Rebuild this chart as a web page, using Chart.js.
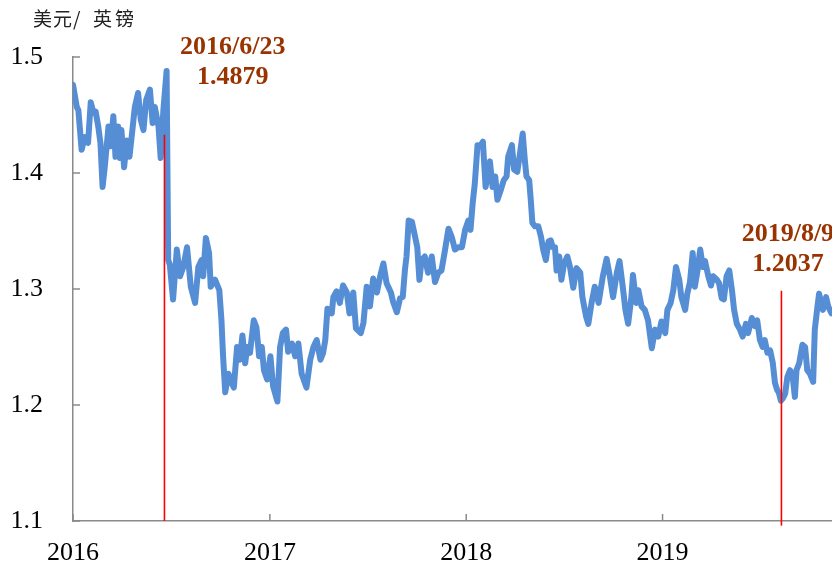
<!DOCTYPE html>
<html>
<head>
<meta charset="utf-8">
<script src="https://cdn.jsdelivr.net/npm/chart.js@4.4.1/dist/chart.umd.min.js"></script>
<style>
  html, body { margin: 0; padding: 0; background: #fff; }
  #wrap { width: 832px; height: 567px; position: relative; }
</style>
</head>
<body>
<div id="wrap"><canvas id="c" width="832" height="567"></canvas></div>
<script>
// ---- Data (days since 2016-01-01, USD per GBP) ----
const days = [
  0,7,10,16,22,28,33,38,42,47,51,55,59,66,70,75,79,84,87,90,95,100,105,109,115,121,126,131,136,143,148,152,159,163,168,174,
  177,180,186,193,199,205,212,219,227,233,239,242,247,253,256,264,272,276,279,283,
  289,295,299,305,310,315,320,324,329,336,341,346,351,355,361,367,372,380,385,390,396,400,407,413,419,425,434,441,447,453,460,465,469,473,
  475,481,484,490,496,502,509,514,521,526,535,540,546,552,558,565,571,577,583,591,595,602,608,613,617,620,624,630,636,640,644,648,654,660,667,673,679,685,691,698,704,710,716,723,729,735,739,743,747,752,757,762,767,
  775,780,785,789,795,801,806,809,816,820,826,831,836,840,843,848,851,854,859,865,870,874,879,884,888,892,896,899,904,908,913,919,924,930,936,943,947,954,958,964,970,977,985,992,998,1004,1011,1016,1022,1027,1032,1038,1041,1047,1051,1057,1063,1069,
  1076,1082,1088,1094,1101,1105,1111,1116,1121,1127,1131,1138,1142,1147,1152,1156,1161,1166,1171,1175,1181,1186,1190,1197,1201,1206,1210,1215,1220,1225,1229,1234,1240,1245,1251,1255,1262,1268,1272,1277,1282,1286,1291,1296,1301,1305,1309,1312,1316,1320,1324,1328,1333,1338,1342,1345,1350,1356,1361,1365,1370,1376,1379,1384,1387,1394,1400,1404,1410
];
const rates = [
  1.476,1.457,1.454,1.420,1.431,1.426,1.461,1.452,1.453,1.440,1.426,1.388,1.405,1.440,1.423,1.449,1.414,1.440,1.413,1.437,1.405,1.428,1.414,1.431,1.457,1.469,1.446,1.437,1.463,1.472,1.443,1.457,1.440,1.413,1.454,1.4879,
  1.325,1.321,1.291,1.334,1.311,1.319,1.336,1.302,1.288,1.319,1.325,1.311,1.344,1.331,1.302,1.308,1.299,1.273,1.242,1.211,
  1.227,1.219,1.215,1.250,1.239,1.260,1.236,1.250,1.245,1.273,1.267,1.242,1.250,1.230,1.222,1.242,1.216,1.203,1.250,1.262,1.265,1.246,1.253,1.242,1.253,1.227,1.215,1.239,1.250,1.256,1.239,1.245,1.256,1.283,
  1.282,1.279,1.293,1.298,1.288,1.303,1.297,1.279,1.297,1.266,1.262,1.271,1.302,1.285,1.309,1.297,1.311,1.322,1.305,1.297,1.289,1.280,1.292,1.293,1.316,1.328,1.359,1.358,1.345,1.336,1.308,1.325,1.328,1.314,1.328,1.306,1.314,1.316,1.332,1.352,1.345,1.334,1.336,1.336,1.351,1.359,1.351,1.374,1.391,1.424,1.423,1.427,1.388,
  1.410,1.388,1.397,1.377,1.385,1.394,1.397,1.414,1.424,1.403,1.401,1.417,1.434,1.411,1.397,1.394,1.377,1.357,1.354,1.354,1.345,1.334,1.325,1.341,1.342,1.336,1.336,1.316,1.328,1.308,1.322,1.328,1.319,1.301,1.318,1.314,1.293,1.276,1.270,1.288,1.302,1.288,1.311,1.326,1.311,1.293,1.314,1.324,1.302,1.282,1.270,1.293,1.312,1.288,1.299,1.285,1.282,1.273,
  1.249,1.265,1.259,1.272,1.262,1.282,1.288,1.299,1.319,1.308,1.293,1.282,1.296,1.306,1.331,1.302,1.316,1.334,1.319,1.324,1.311,1.303,1.311,1.308,1.305,1.292,1.291,1.311,1.316,1.299,1.282,1.270,1.265,1.259,1.270,1.262,1.275,1.268,1.273,1.256,1.250,1.256,1.245,1.247,1.236,1.219,1.213,1.211,1.2037,1.206,1.210,1.224,1.230,1.224,1.207,1.230,1.236,1.252,1.250,1.230,1.227,1.220,1.265,1.285,1.296,1.282,1.293,1.285,1.279
];
const yearDays = [0, 366, 731, 1096];
const yearLabels = ['2016', '2017', '2018', '2019'];
const yTicks = [1.1, 1.2, 1.3, 1.4, 1.5];

// event markers (red lines)
const eventDays = [170, 1317];
const eventLow = [1.1, 1.096];
const eventHigh = [1.433, 1.2985];
// annotation texts and anchors (data coords)
const noteLine1 = ['2016/6/23', '2019/8/9'];
const noteLine2 = ['1.4879', '1.2037'];
const noteX = [297, 1329];
const noteY1 = [1.5086, 1.3474];
const noteY2 = [1.4828, 1.3216];
const yAxisTitle = '美元/英镑';

const AXIS = '#8a8a8a';
const serif = '"Liberation Serif", "Times New Roman", serif';

const redSets = eventDays.map((d, i) => ({
  data: [{x: d, y: eventLow[i]}, {x: d, y: eventHigh[i]}],
  borderColor: '#ff0000',
  borderWidth: 1.6,
  pointRadius: 0,
  clip: false,
  order: 0
}));

const decor = {
  id: 'decor',
  afterDraw(chart) {
    const ctx = chart.ctx;
    const xs = chart.scales.x, ys = chart.scales.y;
    const area = chart.chartArea;
    ctx.save();
    // inward tick marks
    ctx.strokeStyle = AXIS;
    ctx.lineWidth = 1.5;
    yTicks.forEach(v => {
      const py = ys.getPixelForValue(v);
      ctx.beginPath();
      ctx.moveTo(area.left, py);
      ctx.lineTo(area.left + 7, py);
      ctx.stroke();
    });
    yearDays.forEach(d => {
      const px = xs.getPixelForValue(d);
      ctx.beginPath();
      ctx.moveTo(px, area.bottom);
      ctx.lineTo(px, area.bottom - 7);
      ctx.stroke();
    });
    // axis title
    ctx.fillStyle = '#222';
    ctx.font = '19px "Noto Sans CJK SC"';
    ctx.textBaseline = 'middle';
    ctx.textAlign = 'left';
    const chars = Array.from(yAxisTitle);
    const cx = [33, 53, 73, 93, 115];
    chars.forEach((ch, i) => ctx.fillText(ch, cx[i], 19));
    // annotations
    ctx.fillStyle = '#993300';
    ctx.font = 'bold 26px ' + serif;
    ctx.textAlign = 'center';
    noteX.forEach((d, i) => {
      const px = xs.getPixelForValue(d);
      ctx.fillText(noteLine1[i], px, ys.getPixelForValue(noteY1[i]));
      ctx.fillText(noteLine2[i], px, ys.getPixelForValue(noteY2[i]));
    });
    ctx.restore();
  }
};

new Chart(document.getElementById('c'), {
  type: 'line',
  data: {
    datasets: [
      {
        data: days.map((d, i) => ({x: d, y: rates[i]})),
        borderColor: '#558ed5',
        borderWidth: 6,
        pointRadius: 0,
        tension: 0,
        borderJoinStyle: 'round',
        borderCapStyle: 'round',
        order: 1
      },
      ...redSets
    ]
  },
  options: {
    responsive: false,
    animation: false,
    events: [],
    layout: { padding: { top: 57, left: 0, right: 0, bottom: 0 } },
    plugins: { legend: { display: false }, tooltip: { enabled: false } },
    scales: {
      x: {
        type: 'linear',
        min: 0,
        max: 1411,
        grid: { display: false, drawTicks: false },
        border: { display: true, color: AXIS, width: 1.5 },
        afterBuildTicks: s => { s.ticks = yearDays.map(v => ({ value: v })); },
        afterFit: s => { s.height = 46; },
        ticks: {
          autoSkip: false,
          maxRotation: 0,
          padding: 17,
          color: '#000',
          font: { family: serif, size: 26 },
          callback: v => { const k = yearDays.indexOf(v); return k >= 0 ? yearLabels[k] : ''; }
        }
      },
      y: {
        min: 1.1,
        max: 1.5,
        grid: { display: false, drawTicks: false },
        border: { display: true, color: AXIS, width: 1.5 },
        afterBuildTicks: s => { s.ticks = yTicks.map(v => ({ value: v })); },
        afterFit: s => { s.width = 73; },
        ticks: {
          padding: 30,
          color: '#000',
          font: { family: serif, size: 26 },
          callback: v => Number(v).toFixed(1)
        }
      }
    }
  },
  plugins: [decor]
});
</script>
</body>
</html>
